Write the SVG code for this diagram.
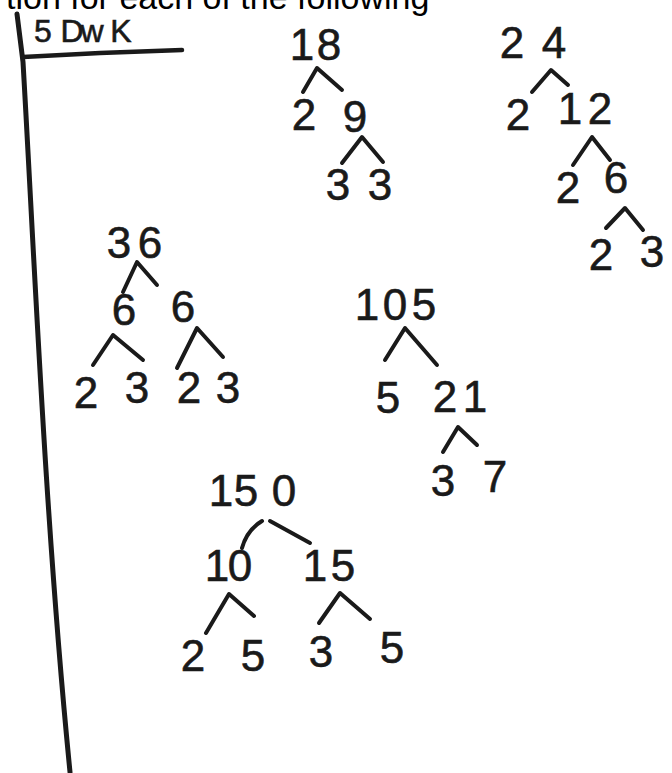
<svg xmlns="http://www.w3.org/2000/svg" width="672" height="773" viewBox="0 0 672 773">
<style>
.hdr{font-family:"Liberation Sans",Arial,sans-serif;font-size:34px;fill:#000}
.n{font-family:"Liberation Sans",Arial,sans-serif;font-size:44px;fill:#1a1a1a;stroke:#1a1a1a;stroke-width:0.6;text-anchor:middle}
.hw{font-family:"Liberation Sans",Arial,sans-serif;font-size:32px;fill:#1a1a1a;stroke:#1a1a1a;stroke-width:0.6;text-anchor:middle}
.c{fill:none;stroke:#1a1a1a;stroke-width:4;stroke-linecap:round;stroke-linejoin:round}
.rule{fill:none;stroke:#1a1a1a;stroke-width:5;stroke-linecap:round;stroke-linejoin:round}
</style>
<rect width="672" height="773" fill="#fff"/>
<text class="hdr" x="6" y="9">tion for each of the following</text>
<g id="header">
<path class="rule" d="M17,14 L23,62 C34,250 45,520 70,772"/>
<path class="rule" d="M23,57 L100,53 L182,50" style="stroke-width:4.5"/>
<text class="hw" x="43 72 92 121" y="42">5DwK</text>
</g>
<g id="connectors">
<path class="c" d="M303,92 L317,68 L342,90"/>
<path class="c" d="M342,163 L362,137 L383,162"/>
<path class="c" d="M532,92 L551,70 L568,85"/>
<path class="c" d="M573,165 L592,137 L610,160"/>
<path class="c" d="M606,228 L625,208 L643,230"/>
<path class="c" d="M123,292 L137,262 L157,285"/>
<path class="c" d="M93,365 L113,335 L143,360"/>
<path class="c" d="M177,368 L197,328 L223,357"/>
<path class="c" d="M385,360 L405,328 L437,365"/>
<path class="c" d="M443,452 L458,427 L477,445"/>
<path class="c" d="M242,548 Q247,530 262,521"/>
<path class="c" d="M270,521 L310,543"/>
<path class="c" d="M206,633 L229,594 L254,616"/>
<path class="c" d="M319,623 L340,593 L370,619"/>
</g>
<g id="n18"><text class="n" x="302 329" y="60">18</text></g>
<g id="n18-2"><text class="n" x="304" y="130">2</text></g>
<g id="n18-9"><text class="n" x="355" y="132">9</text></g>
<g id="n9-3a"><text class="n" x="338" y="200">3</text></g>
<g id="n9-3b"><text class="n" x="380" y="200">3</text></g>
<g id="n24"><text class="n" x="512 554" y="58">24</text></g>
<g id="n24-2"><text class="n" x="518" y="130">2</text></g>
<g id="n24-12"><text class="n" x="570 600" y="124">12</text></g>
<g id="n12-2"><text class="n" x="568" y="203">2</text></g>
<g id="n12-6"><text class="n" x="616" y="193">6</text></g>
<g id="n6-2"><text class="n" x="601" y="270">2</text></g>
<g id="n6-3"><text class="n" x="652" y="267">3</text></g>
<g id="n36"><text class="n" x="119 150" y="258">36</text></g>
<g id="n36-6a"><text class="n" x="124" y="325">6</text></g>
<g id="n36-6b"><text class="n" x="183" y="322">6</text></g>
<g id="n6a-2"><text class="n" x="86" y="408">2</text></g>
<g id="n6a-3"><text class="n" x="137" y="403">3</text></g>
<g id="n6b-2"><text class="n" x="189" y="403">2</text></g>
<g id="n6b-3"><text class="n" x="228" y="403">3</text></g>
<g id="n105"><text class="n" x="367 395 424" y="320">105</text></g>
<g id="n105-5"><text class="n" x="388" y="413">5</text></g>
<g id="n105-21"><text class="n" x="445 475" y="412">21</text></g>
<g id="n21-3"><text class="n" x="443" y="496">3</text></g>
<g id="n21-7"><text class="n" x="495" y="492">7</text></g>
<g id="n150"><text class="n" x="221 246 284" y="506">150</text></g>
<g id="n150-10"><text class="n" x="217 240" y="581">10</text></g>
<g id="n150-15"><text class="n" x="315 343" y="581">15</text></g>
<g id="n10-2"><text class="n" x="193" y="671">2</text></g>
<g id="n10-5"><text class="n" x="253" y="671">5</text></g>
<g id="n15-3"><text class="n" x="321" y="667">3</text></g>
<g id="n15-5"><text class="n" x="392" y="663">5</text></g>
</svg>
